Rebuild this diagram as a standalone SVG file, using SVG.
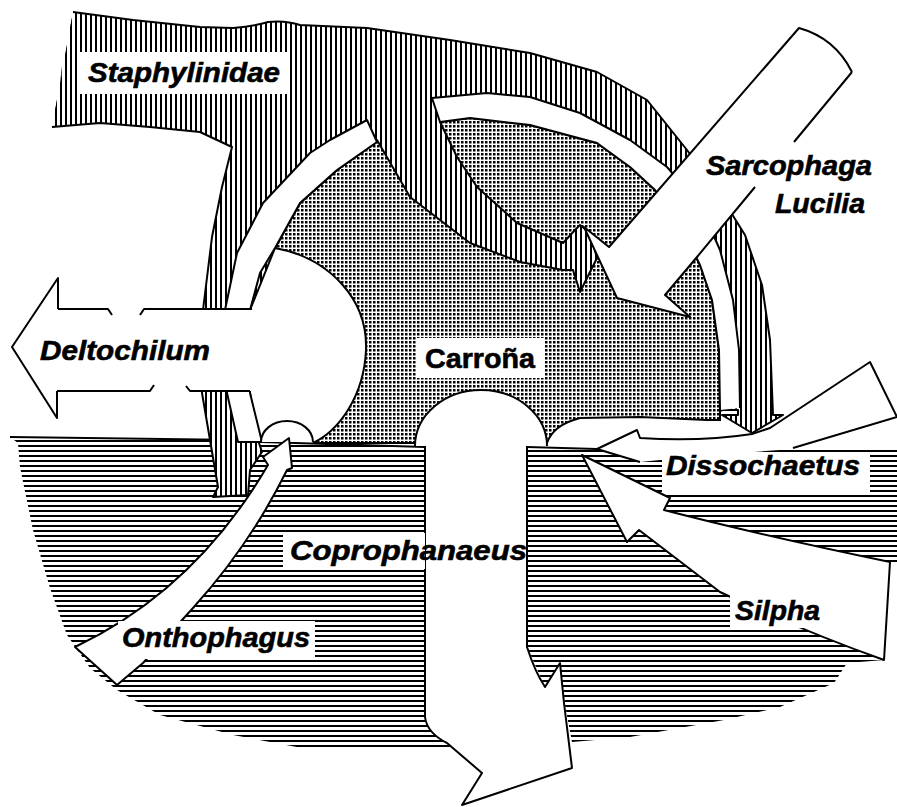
<svg xmlns="http://www.w3.org/2000/svg" width="897" height="807" viewBox="0 0 897 807">
<defs>
<pattern id="vh" width="5" height="10" patternUnits="userSpaceOnUse"><rect width="5" height="10" fill="#fff"/><rect width="2" height="10" fill="#000"/></pattern>
<pattern id="hh" width="10" height="5" patternUnits="userSpaceOnUse"><rect width="10" height="5" fill="#fff"/><rect width="10" height="2" fill="#000"/></pattern>
<pattern id="st" width="4" height="4" patternUnits="userSpaceOnUse"><rect width="4" height="4" fill="#fff"/><rect x="1" y="1" width="2.5" height="2.5" fill="#000"/></pattern>
</defs>
<style>
.ln{fill:none;stroke:#000;stroke-width:2;stroke-linejoin:round}
.w{fill:#fff;stroke:none}
.wl{fill:#fff;stroke:#000;stroke-width:2;stroke-linejoin:round}
.box{fill:#fff}
.t{font-family:"Liberation Sans",Arial,sans-serif;font-weight:bold;font-style:italic;font-size:28px;fill:#000;stroke:#000;stroke-width:0.6}
.tu{font-style:normal}
</style>
<rect width="897" height="807" fill="#fff"/>

<g id="carrona">
<path d="M377,142 L440,113 L470,110 L530,117 L597,135 L630,160 L680,215 L700,255 L714,290 L727,350 L727,408 L720,411 L720,420 L707,420 L640,417 L580,418 Q553,425 547,443 L415,443 L313,443 L305,435 L265,300 L275,248 L300,203 L337,170 Z" fill="url(#st)" stroke="#000" stroke-width="2"/>
</g>

<g id="deltochilum-bulge">
<path class="w" d="M275,248 C330,258 368,300 366,350 C364,395 340,430 313,443 L258,443 L250,393 L250,310 Z"/>
<path class="ln" d="M275,248 C330,258 368,300 366,350 C364,395 340,430 313,443"/>
</g>

<g id="suelo">
<path d="M10,437 L240,440 L262,442 L425,447 L425,717 Q427,733 447,743 L452,749 L313,750 L233,735 L160,715 L117,690 L90,668 L67,635 L50,588 L33,530 L20,467 L18,443 Z" fill="url(#hh)"/>
<path class="ln" d="M10,437 L240,440 L262,442 L425,447"/>
<path d="M527,447 L597,449 L640,462 L700,456 L793,449 L897,449 L897,562 L890,562 L884,660 L847,663 L834,683 L780,707 L724,720 L630,737 L572,742 L565,705 L560,663 L545,687 L527,647 Z" fill="url(#hh)"/>
<path class="ln" d="M527,447 L597,449"/>
</g>

<g id="staphylinidae">
<path d="M73,12 L133,20 L200,27 L233,28 Q255,26 268,22 Q285,20 300,25 L367,28 L450,40 L530,53 L597,72 L647,100 L687,150 L720,195 L745,235 L762,285 L770,340 L773,415 L783,415 L752,433 L722,415 L738,415 L738,410 L720,410 L719,350 L712,300 L700,265 L680,225 L655,190 L630,167 L597,143 L530,125 L470,118 L440,122 L457,157 L477,187 L517,223 L563,243 L575,230 L580,225 L590,233 L597,258 L580,292 L573,270 L563,270 L520,262 L470,243 L410,197 L377,140 L337,170 L300,203 L275,248 L250,310 L250,393 L258,440 L262,452 L250,470 L248,495 L213,497 L218,487 L210,440 L202,393 L203,310 L212,237 L222,187 L232,147 L200,132 L150,127 L100,123 L52,127" fill="url(#vh)" stroke="#000" stroke-width="2" stroke-linejoin="round"/>
<path d="M52,127 L58,100 L62,66 L70,56 L73,12 Z" fill="url(#vh)"/>
</g>

<g id="bandas">
<path class="wl" d="M367,120 L330,140 L310,153 L263,203 L237,253 L225,310 L227,393 L238,442 L262,442 L250,393 L250,310 L260,273 L275,248 L300,203 L337,170 L377,142 Z"/>
<path class="w" d="M720,410 L719,350 L712,300 L700,265 L680,225 L655,190 L630,167 L597,143 L530,125 L470,118 L440,122 L432,98 L487,93 L530,97 L580,113 L630,140 L667,167 L700,205 L720,250 L733,300 L739,350 L740,408 Z"/>
<path class="ln" d="M720,410 L719,350 L712,300 L700,265 L680,225 L655,190 L630,167 L597,143 L530,125 L470,118 L440,122 L432,98 L487,93 L530,97 L580,113 L630,140 L667,167 L700,205 L720,250 L733,300 L739,350 L740,408"/>
</g>

<g id="connectors">
<g id="arrow-deltochilum">
<path class="w" d="M12,347 L58,278 L58,309 L270,309 L270,391 L57,391 L57,418 Z"/>
<path class="ln" d="M58,309 L58,278 L12,347 L57,418 L57,391"/>
<path class="ln" d="M58,309 L108,309 L112,315 M140,315 L144,309 L252,309"/>
<path class="ln" d="M57,391 L150,391 L154,385 M186,386 L190,391 L250,391"/>
</g>
<g id="arrow-onthophagus">
<path class="w" d="M261,442 A26,21 0 0 1 313,442 Z"/>
<path class="ln" d="M261,442 A26,21 0 0 1 313,442"/>
<path class="wl" d="M289,438 L292,468 L287,470 Q250,545 193,608 L143,663 L117,685 L75,647 Q195,590 268,465 L263,457 Z"/>
</g>
<g id="arrow-coprophanaeus">
<path class="w" d="M415,446 A66,56 0 0 1 547,446 Z"/>
<path class="ln" d="M415,446 A66,56 0 0 1 547,446"/>
<path class="w" d="M425,446 L425,717 Q427,733 447,743 L482,773 L462,805 L572,768 L564,703 L560,663 L545,687 Q535,672 527,647 L527,446 Z"/>
<path class="ln" d="M425,446 L425,717 Q427,733 447,743 L482,773 L462,805 L572,768 L564,703 L560,663 L545,687 Q535,672 527,647 L527,446"/>
</g>
<g id="arrow-dissochaetus">
<path class="w" d="M597,449 L637,430 L640,438 Q700,442 752,434 L770,428 L870,362 L897,417 L793,448 L663,456 L640,462 Z"/>
<path class="ln" d="M640,462 L597,449 L637,430 L640,438 Q700,442 752,434 L770,428 L870,362 L897,417 L793,448"/>
</g>
<g id="arrow-silpha">
<path class="wl" d="M582,455 L670,498 L664,510 Q760,535 890,562 L884,660 Q800,630 720,592 L639,530 L627,542 Z"/>
</g>
<g id="arrow-sarcophaga">
<path class="w" d="M799,28 Q835,38 852,72 L697,257 L665,295 L690,317 L617,298 L584,227 L609,247 Z"/>
<path class="ln" d="M852,72 L794,142 M755,187 L697,257 L665,295 L690,317 L617,298 L584,227 L609,247 L799,28 Q835,38 852,72"/>
</g>
</g>

<g id="labels">
<rect class="box" x="78" y="52" width="209" height="42"/>
<text class="t" x="88" y="82" textLength="192" lengthAdjust="spacingAndGlyphs">Staphylinidae</text>
<text class="t" x="40" y="360" textLength="170" lengthAdjust="spacingAndGlyphs">Deltochilum</text>
<rect class="box" x="416" y="338" width="129" height="40"/>
<text class="t tu" x="425" y="368" textLength="110" lengthAdjust="spacingAndGlyphs">Carroña</text>
<text class="t" x="706" y="175" textLength="166" lengthAdjust="spacingAndGlyphs">Sarcophaga</text>
<text class="t" x="775" y="213" textLength="90" lengthAdjust="spacingAndGlyphs">Lucilia</text>
<rect class="box" x="283" y="533" width="142" height="36"/>
<text class="t" x="290" y="560" textLength="237" lengthAdjust="spacingAndGlyphs">Coprophanaeus</text>
<rect class="box" x="118" y="621" width="197" height="38"/>
<text class="t" x="122" y="647" textLength="188" lengthAdjust="spacingAndGlyphs">Onthophagus</text>
<rect class="box" x="662" y="452" width="208" height="40"/>
<text class="t" x="666" y="475" textLength="194" lengthAdjust="spacingAndGlyphs">Dissochaetus</text>
<rect class="box" x="730" y="594" width="93" height="34"/>
<text class="t" x="735" y="620" textLength="85" lengthAdjust="spacingAndGlyphs">Silpha</text>
</g>
</svg>
